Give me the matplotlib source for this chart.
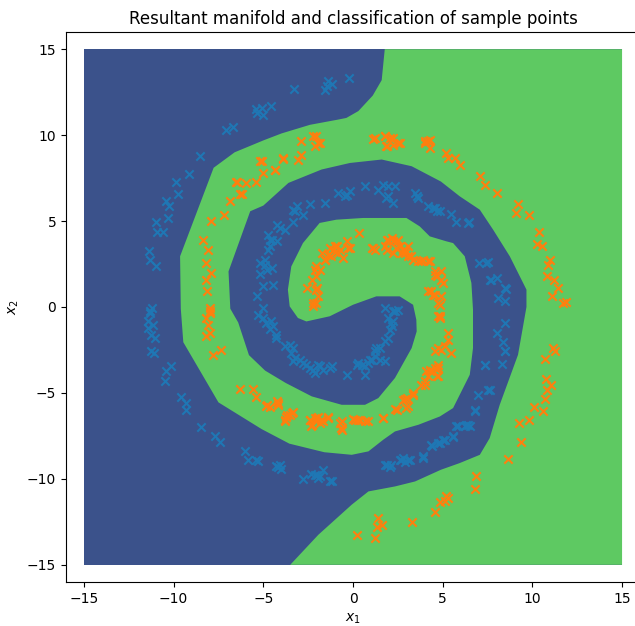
import numpy as np
import matplotlib
matplotlib.use("Agg")
import matplotlib.pyplot as plt

# ---------------- data ----------------
title = "Resultant manifold and classification of sample points"
xlabel = "$x_1$"
ylabel = "$x_2$"
ticks = [-15, -10, -5, 0, 5, 10, 15]
axis_limits = (-16, 16)

# extent of the evaluated grid (class 0 background)
grid_x = [-15, 15, 15, -15]
grid_y = [-15, -15, 15, 15]

# boundary of the class-1 region (decision boundary)
region1_x = [1.77, 15, 15, -3.5, -1.93, -0.07, 0.86, 2.34, 3.46, 4.9, 5.95, 7.07, 7.62, 8.18,
             9.2, 9.67, 9.67, 8.74, 7.81, 7.07, 5.95, 4.9, 3.27, 1.6, -0.17, -1.75, -3.6,
             -5.0, -5.73, -6.94, -6.84, -6.4, -5.8, -4.9, -3.75, -2.3, -0.63, 0.67, 1.41,
             2.34, 3.27, 3.55, 3.53, 3.35, 2.6, 1.3, 0.0, -1.3, -2.6, -3.07, -3.53, -3.63,
             -3.44, -2.79, -1.86, -0.93, 0.56, 2.98, 3.72, 4.28, 5.21, 5.58, 6.23, 6.6,
             6.69, 6.69, 6.51, 5.58, 4.84, 3.65, 2.34, 1.69, 0.86, -0.07, -1.6, -3.55,
             -5.1, -7.5, -9.46, -9.6, -9.64, -7.77, -6.6, -4.98, -3.98, -2.4, -0.85, -0.37,
             0.3, 1.1, 1.6]
region1_y = [15, 15, -15, -15, -13.25, -11.5, -10.73, -10.44, -10.15, -9.47, -9.08, -8.6, -7.63,
             -5.69, -2.78, 0.0, 1.01, 2.95, 4.5, 5.66, 6.44, 7.3, 8.19, 8.58, 8.38, 8.0, 7.22,
             5.9, 5.57, 2.07, -0.1, -0.9, -2.8, -3.7, -4.42, -5.2, -5.69, -5.69, -5.3,
             -4.13, -2.39, -1.42, -0.74, 0.13, 0.62, 0.62, 0.13, -0.54, -0.84, -0.64, 0.04,
             1.01, 2.36, 3.72, 4.89, 5.08, 5.18, 5.18, 4.69, 4.11, 3.82, 3.72, 2.95, 1.4,
             -0.15, -2.39, -3.94, -5.88, -6.37, -6.85, -7.24, -7.72, -8.4, -8.6, -8.45,
             -7.95, -7.1, -5.55, -2.05, -0.1, 2.95, 8.1, 9.0, 9.7, 10.1, 10.6, 10.9, 11.0,
             11.4, 12.3, 13.2]

# class 0 sample points
class0_x = [-3.29, -1.56, -1.37, -1.19, -1.47, -0.2,
            -5.4, -5.1, -5.0, -4.55, -5.36, -7.06, -6.7, -8.55, -9.16, -9.85, -9.76,
            -10.45, -10.24, -10.33, -10.99, -10.9, -10.6, -11.36, -11.3, -10.99,
            -11.2, -11.3, -11.34, -11.43, -11.15, -11.43, -11.24, -11.06, -11.24, -11.11,
            -10.41, -10.13, -10.5, -9.57, -9.29, -9.29, -8.49, -7.71, -7.4,
            -6.04, -5.86, -5.39, -5.3, -4.28, -4.09, -3.99, -4.2,
            -2.79, -2.32, -2.14, -1.95, -2.0, -1.84, -1.65, -1.19, -1.3,
            1.88, 2.06, 2.14, 1.77, 2.62, 2.81, 2.7, 2.88, 3.09, 3.16, 3.93, 3.9, 4.39,
            4.37, 4.76, 4.84, 5.02, 5.11, 5.58, 5.58, 5.77, 5.86, 6.23, 6.32, 6.42, 6.51,
            6.79, 6.79, 6.97, 7.62, 7.53, 7.38, 7.35, 8.28, 8.5, 8.46, 8.37, 8.0, 8.46,
            8.46, 8.09, 8.46, 8.52, 8.0, 7.72, 7.66, 7.03, 7.53, 7.44, 6.47, 6.42, 5.77,
            5.49, 4.84, 4.67, 4.57, 4.2, 4.46, 3.55, 3.46, 3.63,
            2.25, 1.97, 1.86, 2.34, 1.97, 1.69, 1.41, 0.67, -0.17, -0.35, -0.81, -0.46,
            -1.56, -2.4, -3.14, -3.23, -2.77, -3.32, -3.33, -4.26, -4.07, -3.79, -4.72,
            -4.53, -4.26, -4.65, -4.63, -4.72, -4.9, -4.81, -4.53, -4.9, -5.2, -5.2, -4.44,
            -5.0, -5.35, -5.0, -5.3,
            -5.02, -4.83, -4.55, -4.46, -4.6, -4.27, -4.3, -3.81, -3.53, -3.35, -3.44,
            -3.25, -2.97, -3.35, -2.79, -2.6, -2.41, -2.23, -2.14, -1.84, -1.65, -1.19,
            -1.3, -1.95, -0.35, 0.21, 0.28, 0.49, 0.67, 0.67, 0.86, 0.93, 1.04, 1.51, 1.79,
            1.23, 1.23, 1.3, 1.51, 1.79, 1.97, 2.06, 2.16, 2.25, 2.14, 1.97, 1.79, 2.25,
            2.53, 2.33]
class0_y = [12.69, 12.65, 13.14, 12.95, 12.85, 13.33,
            11.5, 11.6, 11.2, 11.7, 11.3, 10.3, 10.5, 8.8, 7.75, 7.25, 6.57,
            6.15, 5.86, 5.18, 4.93, 4.35, 4.37, 3.24, 2.75, 2.4,
            -0.05, -0.25, -0.35, -0.84, -1.03, -1.22, -1.61, -1.8, -2.58, -2.68,
            -3.75, -3.42, -4.33, -5.24, -5.59, -6.02, -7.0, -7.5, -7.88,
            -8.4, -8.93, -8.89, -8.95, -9.24, -9.18, -9.43, -9.3,
            -10.0, -9.7, -9.8, -9.95, -9.76, -9.86, -9.47, -10.15, -10.15,
            -9.18, -9.28, -9.18, -9.18, -8.89, -8.8, -8.89, -8.99, -8.89, -8.89, -8.8, -8.69,
            -8.11, -8.01, -7.91, -7.91, -7.72, -7.72, -7.59, -7.53, -6.95, -6.95, -6.95,
            -6.85, -6.85, -6.95, -6.04, -5.98, -5.14, -4.81, -4.81, -3.4, -3.36, -3.32,
            -2.58, -2.58, -2.04, -1.51, -0.93,
            0.33, 0.52, 1.11, 1.04, 1.68, 1.59, 1.55, 2.56, 2.6, 2.56, 4.93, 4.9, 4.93,
            5.42, 5.57, 5.57, 5.76, 5.86, 5.76, 6.44, 6.64, 6.34,
            6.05, 6.44, 6.34, 7.02, 7.02, 7.12, 6.83, 7.02, 6.73, 6.54, 6.64, 6.44,
            6.05, 6.01, 5.86, 5.57, 5.37, 4.93, 5.66, 4.79, 4.6, 4.5, 4.21,
            3.92, 3.82, 3.9, 3.53, 3.34, 2.75, 2.17, 2.27, 2.46, 2.56, 1.9, 1.3,
            1.2, 0.62, -0.05, -0.45,
            -0.64, -0.93, -0.84, -1.13, -1.3, -1.61, -1.8, -2.29, -2.19, -2.39, -2.68,
            -2.97, -3.07, -3.17, -3.26, -3.36, -3.55, -3.65, -3.84, -3.46, -3.65, -3.46,
            -3.55, -3.36, -3.94, -3.36, -3.26, -3.36, -3.46, -3.94, -3.26, -3.07, -3.07,
            -3.07, -3.17, -2.87, -2.58, -2.39, -2.39, -2.0, -1.8, -1.32, -1.13, -0.84,
            -0.93, -0.64, -0.06, -0.26, -0.16, -0.25]

# class 1 sample points
class1_x = [-2.21, -2.21, -2.04, -1.93, -2.02, -2.58, -2.04, -2.3, -2.04, -2.12, -1.84, -2.04,
            -1.56, -1.58, -1.75, -1.37, -1.2, -1.09, -1.02, -0.91, -0.81, -0.54, -0.35,
            -0.17, -0.28, 0.34, -1.3, -1.0, -0.7,
            1.04, 1.12, 1.23, 1.88, 1.95, 2.16, 2.23, 2.44, 2.51, 1.88, 1.77, 2.25, 2.42,
            2.62, 2.72, 2.79, 2.9, 3.07, 2.88, 3.09, 3.26, 3.37, 3.65, 3.81, 3.93, 4.18,
            4.3, 4.57, 4.93, 4.56, 4.67, 5.02, 4.9, 4.2, 4.37, 4.48, 4.56, 4.93, 4.76,
            4.84, 4.74, 4.84, 4.85, 5.3, 5.3, 5.11, 4.93, 4.56, 4.76, 5.49, 4.74, 4.57,
            4.76, 4.28, 4.3, 4.09, 4.2, 4.74, 4.67, 4.0, 3.81, 4.02, 3.37, 3.35, 2.88,
            2.81, 2.99, 3.09, 2.98, 2.44, 2.33, 1.69, 1.67, 0.86, 0.65, 0.39, 0.28, 0.11,
            0.0, -0.63, -0.74, -0.63, -0.65, -1.37, -1.39, -1.65, -1.76, -1.84, -2.02,
            -1.95, -2.04, -2.14, -2.3, -2.32, -2.4, -2.42, -3.35, -3.42, -3.49, -3.7,
            -3.71, -3.79, -3.81, -4.16, -4.18, -4.26, -4.65, -4.83, -4.81, -5.39, -5.58,
            -6.32, -7.34, -7.8, -8.18, -7.99, -8.09, -8.18, -7.99, -8.0, -7.95, -8.12,
            -8.18, -7.9, -8.2, -8.1, -8.37, -7.94, -7.2, -6.88, -6.2, -6.3, -6.5, -6.47,
            -5.94, -5.4, -5.0, -5.1, -5.16, -4.37, -4.35, -3.9, -3.88, -3.07, -2.9, -2.9,
            -2.23, -2.14, -2.04, -1.93, -1.86,
            1.14, 1.21, 1.79, 1.77, 2.06, 1.88, 1.86, 2.25, 2.23, 2.53, 2.6, 4.02, 4.0,
            4.2, 4.28, 4.3, 5.21, 5.3, 5.67, 5.95, 7.07, 7.35, 8.03, 9.2, 9.11, 9.82,
            10.38, 10.23, 10.56, 10.97, 10.88, 10.84, 11.19, 11.43, 11.12, 11.68, 11.9,
            11.15, 11.25, 10.69, 10.75, 11.06, 10.79, 10.69, 10.6, 10.08, 9.82, 9.26,
            9.39, 8.64, 6.88, 6.79, 5.21, 5.11, 5.3, 4.57, 4.85, 3.27, 1.41, 1.6, 1.32,
            1.23, 0.21]
class1_y = [0.04, 0.23, 0.23, 0.62, 1.11, 1.11, 1.01, 1.59, 1.78, 2.17, 2.17, 2.36,
            2.75, 2.75, 3.14, 3.05, 2.95, 3.34, 3.53, 3.53, 3.14, 2.85, 3.82,
            3.43, 3.43, 4.31, 3.43, 3.2, 3.3,
            3.43, 3.43, 3.34, 3.92, 3.92, 4.02, 3.82, 3.82, 3.92, 3.34, 3.53, 3.14, 3.43,
            3.53, 3.14, 3.34, 3.34, 3.53, 3.14, 2.95, 2.95, 2.75, 2.65, 2.65, 2.75, 2.65,
            2.65, 2.07, 2.07, 1.88, 1.78, 1.4, 1.6, 0.91, 0.91, 0.72, 0.72, 0.62, 0.23,
            0.13, -0.54, -0.55, -0.64, -1.51, -1.9, -2.29, -2.49, -2.58, -2.39, -2.68,
            -3.55, -3.55, -3.36, -3.65, -3.75, -3.75, -4.04, -4.04, -4.04, -4.33, -4.52,
            -4.52, -5.1, -5.0, -5.36, -5.4, -5.3, -5.78, -5.88, -5.98, -5.94, -6.46,
            -6.46, -6.66, -6.66, -6.56, -6.56, -6.56, -6.52, -6.66, -6.75, -7.14, -7.04,
            -6.46, -6.4, -6.66, -6.56, -6.75, -6.46, -6.4, -6.66, -6.46, -6.85, -6.91,
            -6.56, -6.56, -6.13, -6.17, -6.27, -6.27, -6.40, -6.56, -6.66, -5.69, -5.59,
            -5.49, -5.82, -5.74, -5.69, -5.24, -4.77, -4.75, -2.48, -2.77, -1.71, -1.51,
            -1.03, -0.64, -0.35, -0.25, -0.05, 0.95, 1.59, 1.98, 2.56, 3.3, 3.88, 5.03,
            5.34, 6.15, 6.6, 6.6, 7.3, 7.3, 7.2, 7.3, 7.8, 8.48, 8.5, 7.99, 8.0, 8.6,
            8.68, 8.57, 8.86, 9.64, 9.93, 9.35, 9.94, 9.55, 9.55,
            9.78, 9.84, 9.97, 9.94, 9.84, 9.35, 9.36, 9.45, 9.84, 9.55, 9.55, 9.55, 9.65,
            9.64, 9.74, 9.26, 8.97, 8.68, 8.68, 8.29, 7.65, 7.12, 6.64, 6.02, 5.47, 5.37,
            4.35, 3.69, 3.53, 2.71, 2.46, 1.78, 1.55, 1.1, 0.66, 0.23, 0.27,
            -2.39, -2.58, -3.03, -4.17, -4.52, -4.81, -5.34, -6.04, -5.84, -6.56, -6.72,
            -7.87, -8.84, -9.81, -10.6, -11.0, -11.3, -11.13, -11.93, -11.35, -12.5,
            -12.3, -12.69, -12.79, -13.46, -13.27]

# ---------------- plot ----------------
fig = plt.figure(figsize=(6.35, 6.26), dpi=100)
ax = fig.add_axes([66 / 635, 44 / 626, 574 / 635, 550 / 626])

ax.fill(grid_x, grid_y, color="#3b528b", linewidth=0, zorder=1)
ax.fill(region1_x, region1_y, color="#5ec962", linewidth=0, zorder=2)

ax.scatter(class0_x, class0_y, marker="x", color="tab:blue", zorder=3)
ax.scatter(class1_x, class1_y, marker="x", color="tab:orange", zorder=4)

ax.set_xlim(*axis_limits)
ax.set_ylim(*axis_limits)
ax.set_xticks(ticks)
ax.set_yticks(ticks)
ax.set_xlabel(xlabel)
ax.set_ylabel(ylabel)
ax.set_title(title)

fig.savefig("out.png", dpi=100)
